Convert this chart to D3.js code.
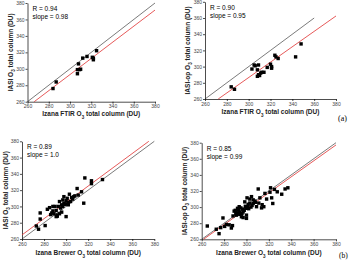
<!DOCTYPE html>
<html>
<head>
<meta charset="utf-8">
<script src="https://cdn.jsdelivr.net/npm/d3@7"></script>
<style>
  body { margin: 0; background: #fff; }
  svg { display: block; font-family: "Liberation Sans", Arial, sans-serif; }
  .tick text { fill: #444; }
</style>
</head>
<body>
<div id="chart"></div>
<script>
// ---- data ----
const ticks = [260, 280, 300, 320, 340, 360, 380];

// (a) top-left: Izana FTIR vs IASI
const ftirA = [284, 287, 307, 307, 309, 310, 308, 312, 316, 321, 322, 322, 325];
const iasiA = [276, 284, 294, 299, 299, 299.5, 306, 313, 315, 314, 311, 313, 322];

// (a) top-right: Izana FTIR vs IASI-op
const ftirB = [284, 287, 303, 305, 306, 309, 308, 308, 309, 310, 311, 312, 314, 317, 320, 321, 321, 324, 325, 327, 343, 348];
const iasiB = [275, 272, 297, 302, 301, 302, 296, 288, 290, 289, 292, 293, 293, 299, 303, 298, 300, 314, 312, 310, 312, 328];

// (b) bottom-left: Izana Brewer vs IASI
const brewerC = [273, 275, 276.5, 276.5, 281, 283, 285, 286, 288, 288, 290, 291, 292, 291, 293, 294, 295, 296, 297, 298,
                 299, 300, 300, 301, 302, 303, 305, 307, 310, 311, 314, 316, 317, 323, 323, 333,
                 287, 289, 294, 296, 298, 300, 302, 304, 306, 308, 292, 297];
const iasiC   = [276, 272, 292, 284.5, 276.5, 296.5, 298.5, 290, 294.5, 300, 300, 287.5, 289.5, 295, 300, 306, 298, 293, 308, 312,
                 302.5, 287.5, 307, 310, 302, 315, 311, 312, 322, 314, 318, 304, 335, 331.5, 328, 333,
                 292, 291, 291, 302, 304, 303, 305, 306, 309, 313, 288, 300];

// (b) bottom-right: Izana Brewer vs IASI-op
const brewerD = [265, 273, 275.5, 277, 279, 280.5, 282, 284.5, 286.5, 287.5, 289, 290.5, 292, 293.5, 294, 295.5, 296.5, 297, 298.5, 299.5,
                 300, 300.5, 301.5, 303, 304.5, 306, 307.5, 309, 310.5, 312, 313.5, 315.5, 316.5, 321, 321.5, 322.5, 323.5, 325, 327.5, 331.5, 334.5, 337,
                 288, 290, 291, 292, 293, 295, 296, 298, 299, 301, 302, 303, 304, 305, 306, 308, 294, 297, 300, 318, 311, 314];
const iasiD   = [276.5, 272.5, 267, 274.5, 286.5, 276, 278.5, 278, 274, 277, 295, 292, 298.5, 300.5, 291, 288, 297.5, 294, 306.5, 298.5,
                 286, 311.5, 303.5, 310, 313, 304.5, 307.5, 300.5, 322.5, 311.5, 299, 300.5, 317, 318.5, 324, 311.5, 304.5, 322, 319, 316, 322.5, 324,
                 289, 296, 290, 293, 297, 299, 292, 296, 301, 300, 298, 305, 300, 302, 309, 306, 294, 287, 290, 310, 305, 303];

const fits = { A: [0.98, -1], B: [0.95, 1.5], C: [1.0, 5], D: [0.99, 1] };

const panels = [
  { xs: ftirA, ys: iasiA, fit: fits.A, x0: 27.5, x1: 155, y0: 3, y1: 101.7, oneEnd: 380,
    r: "R = 0.94", slope: "slope = 0.98", yLab: "IASI O", xLab: "Izana FTIR O", yt: 11, xt: 116 },
  { xs: ftirB, ys: iasiB, fit: fits.B, x0: 205, x1: 336, y0: 1.8, y1: 99, oneEnd: 360,
    r: "R = 0.90", slope: "slope = 0.95", yLab: "IASI-op O", xLab: "Izana FTIR O", yt: 188, xt: 114 },
  { xs: brewerC, ys: iasiC, fit: fits.C, x0: 22, x1: 154.3, y0: 141.3, y1: 239, oneEnd: 380,
    r: "R = 0.89", slope: "slope = 1.0", yLab: "IASI O", xLab: "Izana Brewer O", yt: 6, xt: 255 },
  { xs: brewerD, ys: iasiD, fit: fits.D, x0: 201.7, x1: 336, y0: 142.7, y1: 239.3, oneEnd: 380,
    r: "R = 0.85", slope: "slope = 0.99", yLab: "IASI-op O", xLab: "Izana Brewer O", yt: 185, xt: 255 }
];

const svg = d3.select("#chart").append("svg")
  .attr("width", 355)
  .attr("height", 260);

function title(sel, head) {
  sel.append("tspan").text(head);
  sel.append("tspan").attr("baseline-shift", "sub").attr("font-size", "4.5px").text("3");
  sel.append("tspan").text(" total column (DU)");
}

panels.forEach(function(p) {
  const x = d3.scaleLinear().domain([260, 380]).range([p.x0, p.x1]);
  const y = d3.scaleLinear().domain([260, 380]).range([p.y1, p.y0]);

  const g = svg.append("g");

  // axes
  g.append("g")
    .attr("transform", `translate(0,${p.y1})`)
    .call(d3.axisBottom(x).tickValues(ticks).tickSize(2).tickPadding(1).tickSizeOuter(0))
    .call(a => a.selectAll("text").style("font-size", "5px"))
    .call(a => a.selectAll("line,path").attr("stroke-width", 0.7));
  g.append("g")
    .attr("transform", `translate(${p.x0},0)`)
    .call(d3.axisLeft(y).tickValues(ticks).tickSize(2).tickPadding(1).tickSizeOuter(0))
    .call(a => a.selectAll("text").style("font-size", "5px"))
    .call(a => a.selectAll("line,path").attr("stroke-width", 0.7));

  // 1:1 line
  g.append("line")
    .attr("x1", x(260)).attr("y1", y(260))
    .attr("x2", x(p.oneEnd)).attr("y2", y(p.oneEnd))
    .attr("stroke", "#222").attr("stroke-width", 0.6);

  // regression line
  const m = p.fit[0], b = p.fit[1];
  const xa = Math.max(260, (260 - b) / m), xb = Math.min(380, (380 - b) / m);
  g.append("line")
    .attr("x1", x(xa)).attr("y1", y(m * xa + b))
    .attr("x2", x(xb)).attr("y2", y(m * xb + b))
    .attr("stroke", "#e03030").attr("stroke-width", 0.8);

  // points
  g.selectAll("rect.pt")
    .data(p.xs.map((d, i) => [d, p.ys[i]]))
    .join("rect")
    .attr("x", d => x(d[0]) - 1.7)
    .attr("y", d => y(d[1]) - 1.7)
    .attr("width", 3.4)
    .attr("height", 3.4)
    .attr("fill", "#000");

  // stats
  g.append("text").attr("x", p.x0 + 5).attr("y", p.y0 + 8)
    .style("font-size", "6.5px").text(p.r);
  g.append("text").attr("x", p.x0 + 5).attr("y", p.y0 + 16)
    .style("font-size", "6.5px").text(p.slope);

  // axis titles
  g.append("text")
    .attr("x", (p.x0 + p.x1) / 2).attr("y", p.xt)
    .attr("text-anchor", "middle")
    .style("font-size", "6.5px").style("font-weight", "bold").attr("fill", "#222")
    .call(t => title(t, p.xLab));
  g.append("text")
    .attr("transform", `translate(${p.yt},${(p.y0 + p.y1) / 2}) rotate(-90)`)
    .attr("text-anchor", "middle").attr("dominant-baseline", "middle")
    .style("font-size", "6.5px").style("font-weight", "bold").attr("fill", "#222")
    .call(t => title(t, p.yLab));
});

// panel letters
svg.append("text").attr("x", 338).attr("y", 121)
  .style("font-family", "'Liberation Serif', serif").style("font-size", "8px").text("(a)");
svg.append("text").attr("x", 339).attr("y", 258)
  .style("font-family", "'Liberation Serif', serif").style("font-size", "7.5px").text("(b)");
</script>
</body>
</html>
